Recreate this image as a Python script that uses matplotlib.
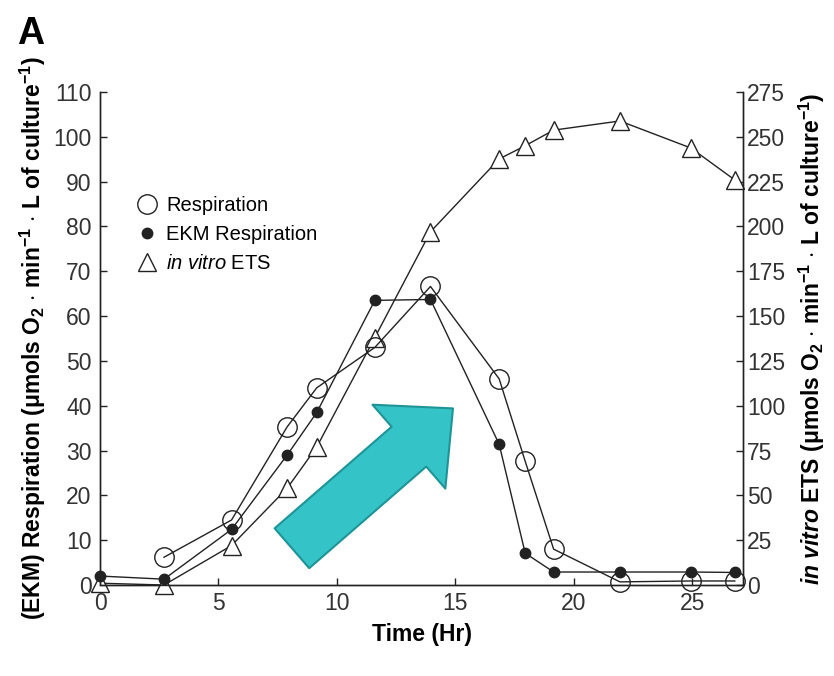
import matplotlib
matplotlib.use("Agg")
import matplotlib.pyplot as plt
from matplotlib.lines import Line2D

# ---------------------------------------------------------------------------
# Data
# ---------------------------------------------------------------------------
time_all = [0, 2.7, 5.55, 7.9, 9.15, 11.6, 13.95, 16.85, 17.95, 19.15, 21.95, 24.95, 26.8]
time_resp = [2.7, 5.55, 7.9, 9.15, 11.6, 13.95, 16.85, 17.95, 19.15, 21.95, 24.95, 26.8]

respiration = [6.2, 14.5, 35.3, 44.0, 53.0, 66.6, 46.0, 27.6, 8.0, 0.7, 0.9, 0.9]
ekm_respiration = [2.0, 1.3, 12.4, 29.0, 38.5, 63.5, 63.7, 31.4, 7.1, 2.9, 2.9, 2.9, 2.8]
ets_in_vitro = [1.0, 0.0, 22.0, 54.0, 77.0, 138.0, 197.0, 237.6, 245.0, 253.7, 258.8, 243.7, 225.9]

left_ticks = list(range(0, 111, 10))
right_ticks = list(range(0, 276, 25))
x_ticks = [0, 5, 10, 15, 20, 25]

# arrow (data coords on the left axis)
arrow_tail = (8.1, 8.2)
arrow_tip = (14.9, 39.4)

# ---------------------------------------------------------------------------
# Style
# ---------------------------------------------------------------------------
plt.rcParams["font.family"] = ["Liberation Sans", "DejaVu Sans"]
plt.rcParams["mathtext.fontset"] = "custom"
plt.rcParams["mathtext.rm"] = "Liberation Sans"
plt.rcParams["mathtext.it"] = "Liberation Sans:italic"
plt.rcParams["mathtext.bf"] = "Liberation Sans:bold"
plt.rcParams["mathtext.bfit"] = "Liberation Sans:italic:bold"

LINE = "#222222"
TICK_FS = 16.5
LABEL_FS = 16.5

fig = plt.figure(figsize=(8.34, 6.76), dpi=100)
ax = fig.add_axes([0.12, 0.1346, 0.771, 0.7294])
ax2 = ax.twinx()

# ETS on the right axis
ax2.plot(time_all, ets_in_vitro, color=LINE, lw=1.0, marker="^", ms=13,
         mfc="white", mec=LINE, mew=1.0, clip_on=False, zorder=3)

ax.plot(time_all, ekm_respiration, color=LINE, lw=1.0, marker="o", ms=7.5,
        mfc=LINE, mec=LINE, clip_on=False, zorder=4)
ax.plot(time_resp, respiration, color=LINE, lw=1.0, marker="o", ms=14,
        mfc="none", mec=LINE, mew=1.0, clip_on=False, zorder=4)

ax.set_zorder(ax2.get_zorder() + 1)
ax.patch.set_visible(False)

ax.set_xlim(0, 27.15)
ax.set_ylim(0, 110)
ax2.set_ylim(0, 275)

ax.set_xticks(x_ticks)
ax.set_yticks(left_ticks)
ax2.set_yticks(right_ticks)

for a in (ax, ax2):
    a.spines["top"].set_visible(False)
    for s in a.spines.values():
        s.set_linewidth(1.0)
        s.set_color(LINE)
    a.tick_params(direction="in", length=5, width=1.0, colors=LINE,
                  labelsize=TICK_FS, pad=6)
    for lab in a.get_xticklabels() + a.get_yticklabels():
        lab.set_color("#333333")
ax.tick_params(axis="x", pad=5)
ax2.tick_params(axis="y", pad=3)

ax.set_xlabel("Time (Hr)", fontsize=LABEL_FS, fontweight="bold", labelpad=6)
ax.set_ylabel(r"(EKM) Respiration ($\mathbf{\mu}$mols O$_\mathbf{2}$ $\mathbf{\cdot}$ min$^\mathbf{-1}$ $\mathbf{\cdot}$ L of culture$^\mathbf{-1}$)",
              fontsize=LABEL_FS, fontweight="bold", labelpad=4)
ax2.set_ylabel(r"$\mathbfit{in\ vitro}$ ETS ($\mathbf{\mu}$mols O$_\mathbf{2}$ $\mathbf{\cdot}$ min$^\mathbf{-1}$ $\mathbf{\cdot}$ L of culture$^\mathbf{-1}$)",
               fontsize=LABEL_FS, fontweight="bold", labelpad=8)

# cyan block arrow
ax.annotate("", xy=arrow_tip, xytext=arrow_tail,
            arrowprops=dict(arrowstyle="simple,head_length=1.05,head_width=2.0,tail_width=0.95",
                            mutation_scale=40, fc="#34c3c6", ec="#1f9497", lw=1.5,
                            shrinkA=0, shrinkB=0),
            zorder=2)

# legend
handles = [
    Line2D([], [], ls="none", marker="o", ms=14, mfc="none", mec=LINE, mew=1.0),
    Line2D([], [], ls="none", marker="o", ms=7.5, mfc=LINE, mec=LINE),
    Line2D([], [], ls="none", marker="^", ms=13, mfc="white", mec=LINE, mew=1.0),
]
labels = ["Respiration", "EKM Respiration", r"$\mathit{in\ vitro}$ ETS"]
ax.legend(handles, labels, loc="upper left", bbox_to_anchor=(0.045, 0.805),
          frameon=False, fontsize=14.5, handlelength=1.0, handletextpad=0.45,
          labelspacing=0.5, borderaxespad=0)

fig.text(0.02, 0.935, "A", fontsize=27, fontweight="bold")

fig.savefig("out.png", dpi=100)
